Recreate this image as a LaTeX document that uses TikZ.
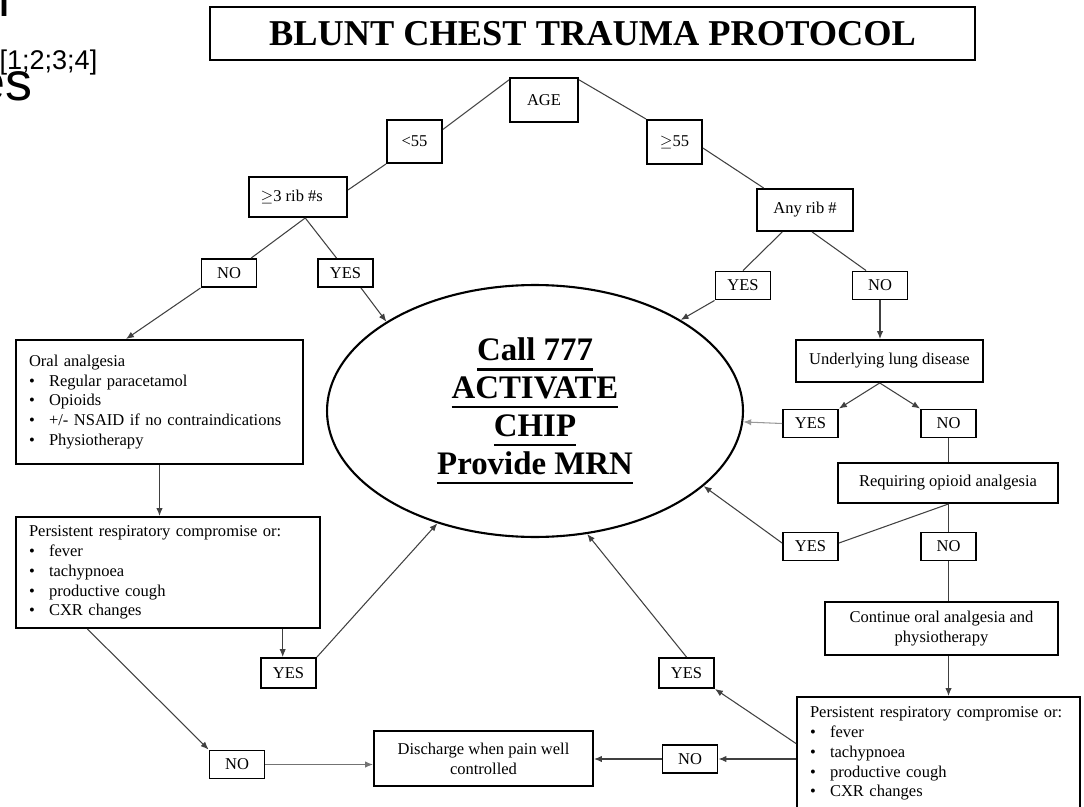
\documentclass[tikz,border=0pt]{standalone}
\usepackage{fontspec}
\setmainfont{Liberation Serif}
\newfontfamily\fragfont{Liberation Sans}
\usepackage{tikz}
\usetikzlibrary{arrows.meta}
\usetikzlibrary{shapes.geometric}

\newcommand{\ulbold}[1]{\setbox0=\hbox{#1}\leavevmode\rlap{\raisebox{-5.6pt}{\rule{\wd0}{1.4pt}}}\box0}
\newcommand{\bitem}[1]{\makebox[0.4cm][l]{\textbullet}#1}

\begin{document}
\begin{tikzpicture}[x=0.02cm,y=-0.02cm,line width=0.6pt,
  box/.style={draw,line width=1.1pt,inner sep=0pt,align=center,font=\fontsize{9.4}{11.3}\selectfont},
  yn/.style={box,minimum width=1.1cm,minimum height=0.56cm},
  listbox/.style={draw,line width=1.1pt,inner xsep=0.26cm,inner ysep=0pt,align=left,font=\fontsize{9.4}{11.3}\selectfont},
  frag/.style={inner sep=0pt,font=\fragfont\fontsize{30.7}{36}\selectfont},
  conn/.style={black!75},
  connarr/.style={black!75,-{Latex[length=4.5pt,width=3.6pt]}}]

\useasboundingbox (0,0) rectangle (1084,807);

% cut off page text
\node[frag,anchor=base west] (fragl) at (-2.5,17) {l};
\node[frag,anchor=base west,font=\fragfont\fontsize{15.4}{18}\selectfont] (fragref) at (-1,70) {[1;2;3;4]};
\node[frag,anchor=base east] (frages) at (33,101) {es};

% title
\node[box,minimum width=15.3cm,minimum height=1.06cm,font=\fontsize{20.7}{24}\bfseries] (title) at (592.5,33.5) {BLUNT CHEST TRAUMA PROTOCOL};

% age split
\node[box,minimum width=1.36cm,minimum height=0.88cm] (age) at (544,100) {AGE};
\node[box,minimum width=1.1cm,minimum height=0.86cm] (lt55) at (414.5,141.5) {<55};
\node[box,minimum width=1.1cm,minimum height=0.88cm] (ge55) at (674.5,142) {$\geq$55};
\node[box,minimum width=1.96cm,minimum height=0.8cm] (ribs3) at (298,197) {$\geq$3 rib \#s\hspace{0.25cm}};
\node[box,minimum width=1.92cm,minimum height=0.84cm] (anyrib) at (805,210) {Any rib \#};

\node[yn] (noL) at (229,273) {NO};
\node[yn] (yesL) at (345.5,273) {YES};
\node[yn] (yesR) at (743,285.5) {YES};
\node[yn] (noR) at (880,285.5) {NO};

% centre
\node[draw,ellipse,line width=1.2pt,inner sep=0pt,minimum width=8.32cm,minimum height=5.04cm,align=center,font=\fontsize{18.7}{21.5}\bfseries] (ell) at (535,411)
  {\ulbold{Call 777}\\\ulbold{ACTIVATE}\\\ulbold{CHIP}\\\ulbold{Provide MRN}};

% right side
\node[box,minimum width=3.74cm,minimum height=0.84cm] (lung) at (889.5,361) {Underlying lung disease};
\node[yn] (yesM) at (810.5,423.5) {YES};
\node[yn] (noM) at (948.5,423.5) {NO};
\node[box,minimum width=4.4cm,minimum height=0.8cm] (opioid) at (948,483) {Requiring opioid analgesia};
\node[yn] (yesM2) at (810.5,546.5) {YES};
\node[yn] (noM2) at (948.5,546.5) {NO};
\node[box,minimum width=4.66cm,minimum height=1.06cm] (cont) at (941.5,628.5) {Continue oral analgesia and\\physiotherapy};
\node[listbox,text width=5.14cm,minimum height=2.26cm] (persR) at (938.5,753.5)
  {Persistent respiratory compromise or:\\\bitem{fever}\\\bitem{tachypnoea}\\\bitem{productive cough}\\\bitem{CXR changes}};

% left side
\node[listbox,text width=5.22cm,minimum height=2.48cm] (oral) at (159.5,402)
  {Oral analgesia\\\bitem{Regular paracetamol}\\\bitem{Opioids}\\\bitem{+/- NSAID if no contraindications}\\\bitem{Physiotherapy}};
\node[listbox,text width=5.56cm,minimum height=2.22cm] (persL) at (168,572.5)
  {Persistent respiratory compromise or:\\\bitem{fever}\\\bitem{tachypnoea}\\\bitem{productive cough}\\\bitem{CXR changes}};

% bottom row
\node[yn,minimum height=0.6cm] (yesLL) at (288.5,673) {YES};
\node[yn] (noLB) at (237,764.5) {NO};
\node[box,minimum width=4.38cm,minimum height=1.1cm] (discharge) at (483.5,758.5) {Discharge when pain well\\controlled};
\node[yn] (noLR) at (690,759) {NO};
\node[yn,minimum height=0.6cm] (yesLR) at (686.5,673) {YES};

% tree lines
\draw[conn] (lt55.23) -- (age.150);
\draw[conn] (age.30) -- (ge55.north west);
\draw[conn] (lt55.south west) -- (ribs3.8);
\draw[conn] (ge55.-12) -- (anyrib.152);
\draw[conn] (ribs3.-71) -- (noL.34);
\draw[conn] (ribs3.-71) -- (yesL.121);
\draw[conn] (anyrib.-136) -- (yesR.north);
\draw[conn] (anyrib.-72) -- (noR.133);

% into the ellipse
\draw[connarr] (yesL.-44) -- (ell.149);
\draw[connarr] (yesR.south west) -- (ell.32);
\draw[connarr,black!40] (yesM.west) -- (ell.-3);
\draw[connarr] (yesM2.173) -- (ell.-24);
\draw[connarr] (yesLR.north) -- (ell.-67);
\draw[connarr] (yesLL.north east) -- (ell.-131);

% right column
\draw[connarr] (noR.south) -- (noR.south |- lung.north);
\draw[connarr] (lung.-114) -- (yesM.north east);
\draw[connarr] (lung.-114) -- (noM.north west);
\draw[conn] (noM.south) -- (noM.south |- opioid.north);
\draw[conn] (opioid.south -| noM2.north) -- (yesM2.7);
\draw[conn] (opioid.south -| noM2.north) -- (noM2.north);
\draw[conn] (noM2.south) -- (noM2.south |- cont.north);
\draw[connarr] (cont.south -| noM2.south) -- (persR.north -| noM2.south);
\draw[connarr] (persR.west |- noLR.east) -- (noLR.east);
\draw[connarr] (persR.176) -- (yesLR.south east);
\draw[connarr] (noLR.west) -- (noLR.west -| discharge.east);

% left column
\draw[connarr] (noL.south west) -- (oral.118);
\draw[connarr] (oral.south) -- (oral.south |- persL.north);
\draw[connarr] (yesLL.110 |- persL.south) -- (yesLL.110);
\draw[connarr] (persL.-145) -- (noLB.north west);
\draw[connarr,black!55] (noLB.east) -- (noLB.east -| discharge.west);

\end{tikzpicture}
\end{document}
